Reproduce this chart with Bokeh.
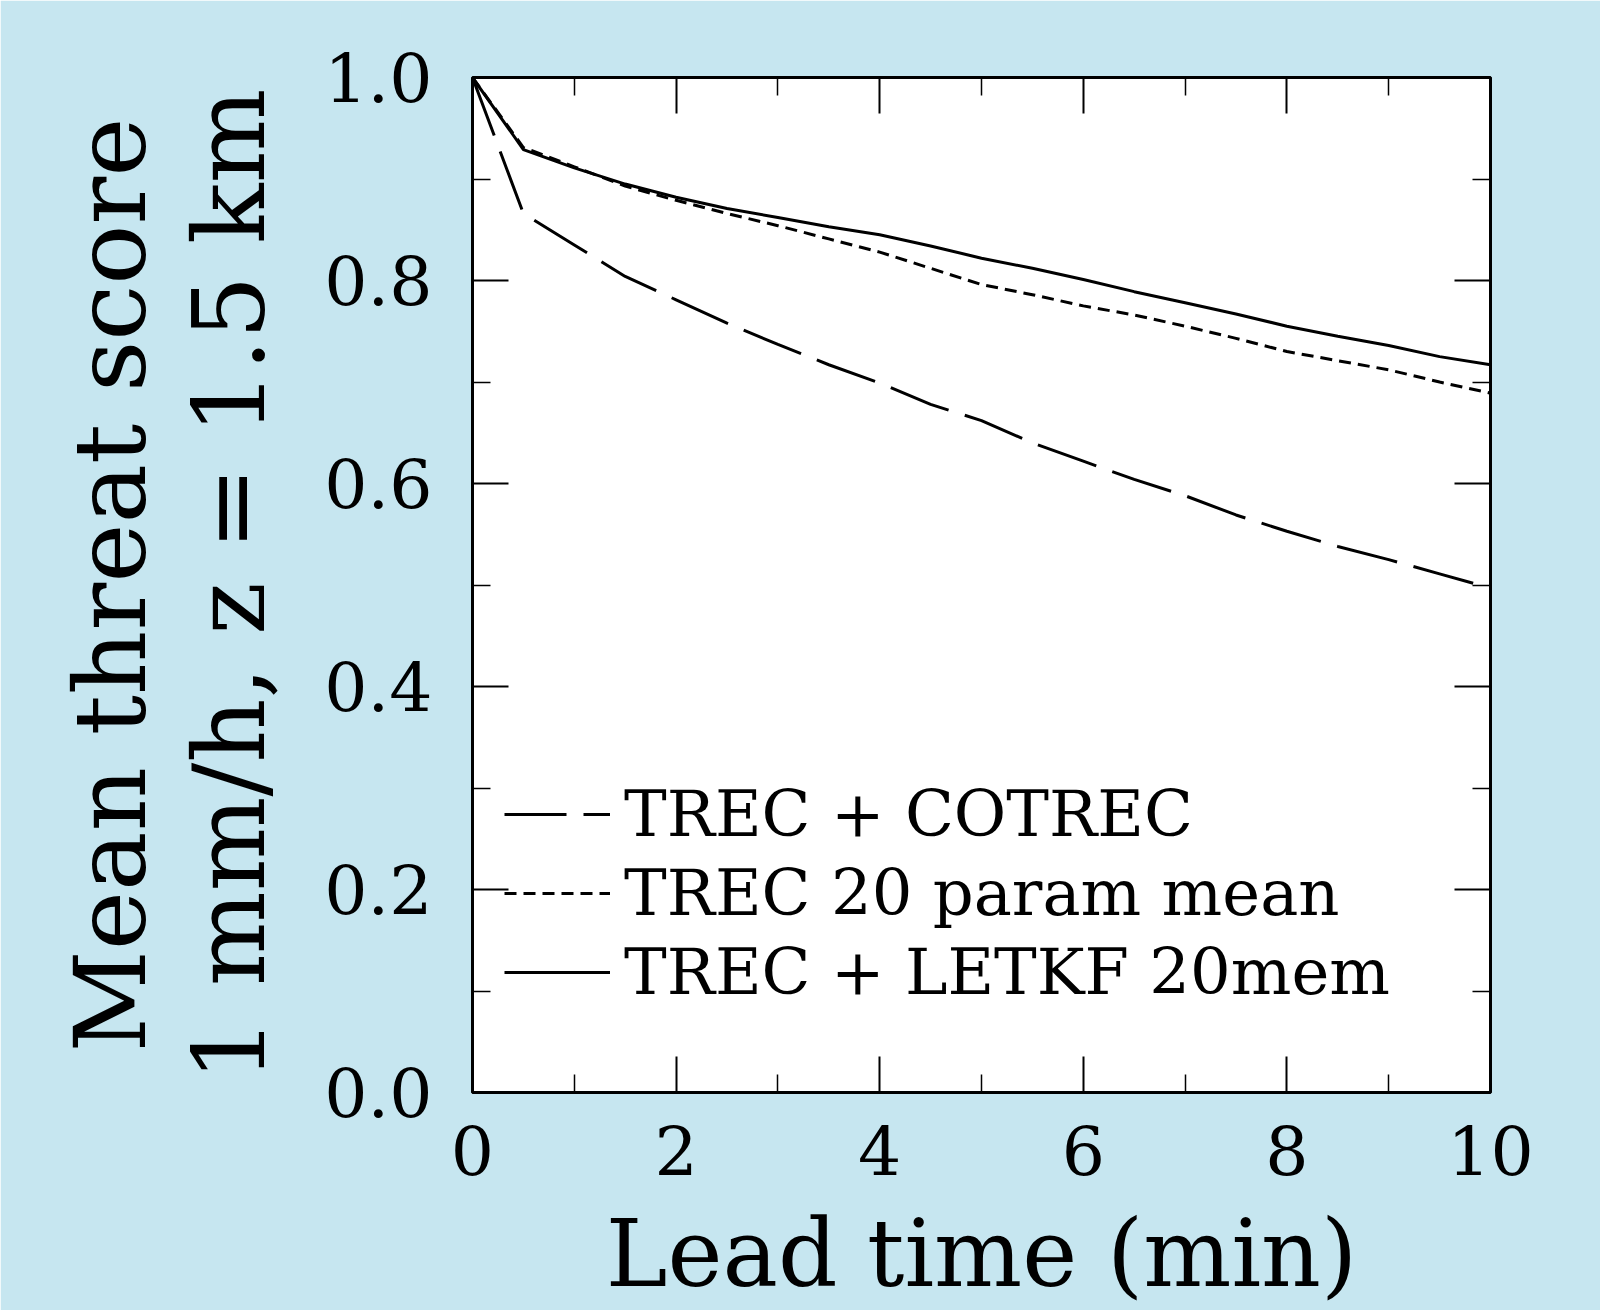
from bokeh.plotting import figure
from bokeh.models import Range1d, LinearAxis, FixedTicker, Legend, LegendItem, Title
from bokeh.embed import file_html
from bokeh.resources import INLINE

# ---- data ----
lead_time = [0.0, 0.5, 1.0, 1.5, 2.0, 2.5, 3.0, 3.5, 4.0, 4.5, 5.0,
             5.5, 6.0, 6.5, 7.0, 7.5, 8.0, 8.5, 9.0, 9.5, 10.0]
trec_cotrec = [1.0, 0.866, 0.835, 0.804, 0.781, 0.758, 0.737, 0.717, 0.699, 0.678, 0.662,
               0.640, 0.622, 0.604, 0.588, 0.569, 0.553, 0.538, 0.525, 0.511, 0.497]
trec_param_mean = [1.0, 0.931, 0.912, 0.893, 0.879, 0.866, 0.854, 0.841, 0.828, 0.812, 0.796,
                   0.786, 0.775, 0.766, 0.755, 0.743, 0.730, 0.721, 0.712, 0.700, 0.689]
trec_letkf = [1.0, 0.929, 0.911, 0.895, 0.882, 0.871, 0.862, 0.853, 0.845, 0.834, 0.822,
              0.812, 0.801, 0.789, 0.778, 0.767, 0.755, 0.745, 0.736, 0.725, 0.717]
series_names = ["TREC + COTREC", "TREC 20 param mean", "TREC + LETKF 20mem"]

x_ticks = [0, 2, 4, 6, 8, 10]
x_minor_ticks = [1, 3, 5, 7, 9]
y_ticks = [0.0, 0.2, 0.4, 0.6, 0.8, 1.0]
y_tick_labels = ["0.0", "0.2", "0.4", "0.6", "0.8", "1.0"]
y_minor_ticks = [0.1, 0.3, 0.5, 0.7, 0.9]

x_title = "Lead time (min)"
y_title_1 = "Mean threat score"
y_title_2 = "1 mm/h, z = 1.5 km"

# ---- style ----
BG = "#c6e6f0"
FONT = "DejaVu Serif"

p = figure(width=1600, height=1310,
           x_range=Range1d(0, 10), y_range=Range1d(0, 1),
           output_backend="svg", toolbar_location=None,
           min_border_left=472, min_border_right=110,
           min_border_top=77, min_border_bottom=216,
           background_fill_color="white", border_fill_color=BG,
           outline_line_color="black", outline_line_width=3)
p.xgrid.grid_line_color = None
p.ygrid.grid_line_color = None

r1 = p.line(lead_time, trec_cotrec, line_color="black", line_width=3, line_dash="62 17")
r2 = p.line(lead_time, trec_param_mean, line_color="black", line_width=3, line_dash="12 7")
r3 = p.line(lead_time, trec_letkf, line_color="black", line_width=3)


def style_axis(ax, ticks, minor, show_labels):
    ax.ticker = FixedTicker(ticks=ticks, minor_ticks=minor)
    ax.axis_line_color = None
    ax.major_tick_in = 36
    ax.major_tick_out = 0
    ax.minor_tick_in = 18
    ax.minor_tick_out = 0
    ax.major_tick_line_color = "black"
    ax.minor_tick_line_color = "black"
    ax.major_tick_line_width = 2
    ax.minor_tick_line_width = 1.5
    if show_labels:
        ax.major_label_text_font = FONT
        ax.major_label_text_font_size = "68px"
        ax.major_label_text_color = "black"
    else:
        ax.major_label_text_font_size = "0px"
        ax.major_label_standoff = 0
        ax.major_label_text_color = None


xax = p.xaxis[0]
yax = p.yaxis[0]
style_axis(xax, x_ticks, x_minor_ticks, True)
style_axis(yax, y_ticks, y_minor_ticks, True)
yax.major_label_overrides = {t: s for t, s in zip(y_ticks, y_tick_labels)}
xax.major_label_standoff = 33
xax.major_label_text_line_height = 0.9
yax.major_label_standoff = 40

xax.axis_label = x_title
xax.axis_label_text_font = FONT
xax.axis_label_text_font_size = "93px"
xax.axis_label_text_font_style = "normal"
xax.axis_label_text_color = "black"
xax.axis_label_text_line_height = 0.85
xax.axis_label_standoff = 22

yax.axis_label = y_title_2
yax.axis_label_text_font = FONT
yax.axis_label_text_font_size = "100px"
yax.axis_label_text_font_style = "normal"
yax.axis_label_text_color = "black"
yax.axis_label_standoff = 33

top_ax = LinearAxis()
right_ax = LinearAxis()
style_axis(top_ax, x_ticks, x_minor_ticks, False)
style_axis(right_ax, y_ticks, y_minor_ticks, False)
p.add_layout(top_ax, "above")
p.add_layout(right_ax, "right")

p.add_layout(Title(text=y_title_1, align="center", text_font=FONT,
                   text_font_size="100px", text_font_style="normal",
                   text_color="black", standoff=0), "left")

legend = Legend(items=[LegendItem(label=series_names[0], renderers=[r1]),
                       LegendItem(label=series_names[1], renderers=[r2]),
                       LegendItem(label=series_names[2], renderers=[r3])],
                location=(32, 83), glyph_width=106, glyph_height=60,
                label_height=60, spacing=5, padding=0, margin=0,
                label_standoff=14, label_text_font=FONT,
                label_text_font_size="64px", label_text_color="black",
                border_line_color=None, background_fill_alpha=0)
p.add_layout(legend)

open("out.html", "w").write(file_html(p, INLINE))
